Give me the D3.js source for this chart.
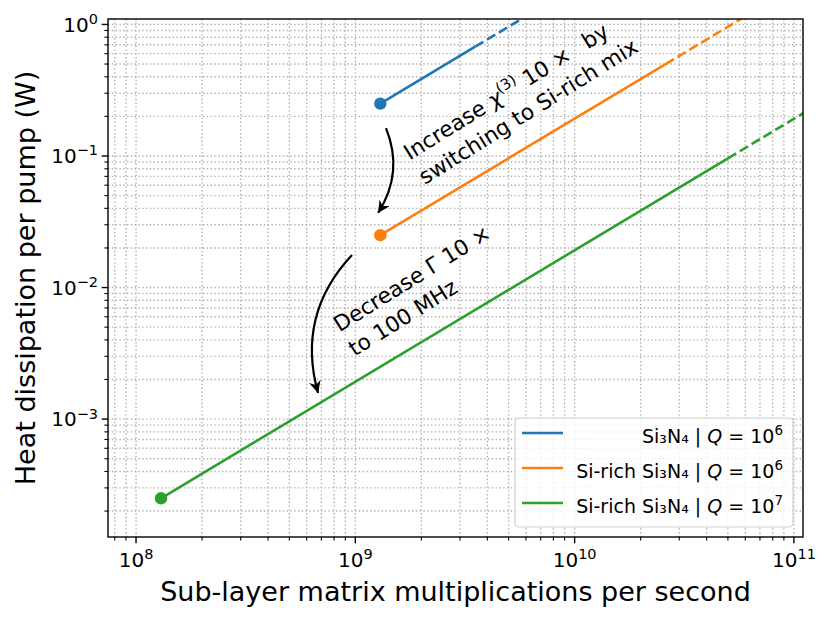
<!DOCTYPE html>
<html>
<head>
<meta charset="utf-8">
<script src="https://cdn.jsdelivr.net/npm/d3@7"></script>
<style>
  body { margin: 0; background: #fff; }
  text { font-family: "DejaVu Sans", sans-serif; fill: #000; }
</style>
</head>
<body>
<svg id="chart" width="830" height="620"></svg>
<script>
// series (x: matmuls / s, y: watts)
const seriesLabels = ["Si₃N₄", "Si-rich Si₃N₄", "Si-rich Si₃N₄"];
const seriesQ = ["6", "6", "7"];
const seriesColors = ["#1f77b4", "#ff7f0e", "#2ca02c"];
const startRate = [1.3e9, 1.3e9, 1.3e8];
const startPower = [0.25, 0.025, 2.5e-4];
const solidEndRate = [3.52e9, 2.6e10, 5.0e10];
const solidEndPower = [0.677, 0.5, 0.096];
const dashEndRate = [6.3e9, 6.3e10, 1.2e11];
const dashEndPower = [1.21, 1.21, 0.23];

const xDomain = [7.45e7, 1.1e11];
const yDomain = [1.27e-4, 1.1];
const xTickExp = [8, 9, 10, 11];
const yTickExp = [-3, -2, -1, 0];

// annotations (data coords)
const arrowFrom = [[1.38e9, 0.163], [9.66e8, 0.0177]];
const arrowTo = [[1.27e9, 0.0369], [6.76e8, 1.58e-3]];
const arrowBend = [22, -40];
const noteAt = [[1.77e9, 0.092], [8.47e8, 4.55e-3]];

const margin = {top: 19, right: 27, bottom: 83, left: 108};
const W = 830, H = 620;
const w = W - margin.left - margin.right, h = H - margin.top - margin.bottom;

const svg = d3.select('#chart');
const g = svg.append('g').attr('transform', `translate(${margin.left},${margin.top})`);

const x = d3.scaleLog().domain(xDomain).range([0, w]);
const y = d3.scaleLog().domain(yDomain).range([h, 0]);

// all log ticks (major + minor) inside domain
const logTicks = (lo, hi) => {
  let t = [];
  for (let e = Math.floor(Math.log10(lo)); e <= Math.ceil(Math.log10(hi)); e++)
    for (let m = 1; m < 10; m++) {
      let v = m * Math.pow(10, e);
      if (v >= lo && v <= hi) t.push({v: v, major: m === 1});
    }
  return t;
};
const xt = logTicks(xDomain[0], xDomain[1]);
const yt = logTicks(yDomain[0], yDomain[1]);

// grid
g.append('g').selectAll('line').data(xt).enter().append('line')
  .attr('x1', d => x(d.v)).attr('x2', d => x(d.v)).attr('y1', 0).attr('y2', h)
  .attr('stroke', '#b0b0b0').attr('stroke-width', 1.4).attr('stroke-dasharray', '1.4,2.4');
g.append('g').selectAll('line').data(yt).enter().append('line')
  .attr('y1', d => y(d.v)).attr('y2', d => y(d.v)).attr('x1', 0).attr('x2', w)
  .attr('stroke', '#b0b0b0').attr('stroke-width', 1.4).attr('stroke-dasharray', '1.4,2.4');

// ticks
g.append('g').selectAll('line').data(xt).enter().append('line')
  .attr('x1', d => x(d.v)).attr('x2', d => x(d.v)).attr('y1', h).attr('y2', d => h + (d.major ? 6.3 : 3.6))
  .attr('stroke', '#000').attr('stroke-width', d => d.major ? 1.4 : 1.1);
g.append('g').selectAll('line').data(yt).enter().append('line')
  .attr('y1', d => y(d.v)).attr('y2', d => y(d.v)).attr('x1', 0).attr('x2', d => d.major ? -6.3 : -3.6)
  .attr('stroke', '#000').attr('stroke-width', d => d.major ? 1.4 : 1.1);

const pow10Label = (sel, e) => {
  sel.append('tspan').text('10');
  sel.append('tspan').attr('font-size', 14.5).attr('dy', -7.8).text(e < 0 ? '\u2212' + (-e) : e);
};
xTickExp.forEach(e => {
  let t = g.append('text').attr('x', x(Math.pow(10, e))).attr('y', h + 30)
    .attr('font-size', 20).attr('text-anchor', 'middle');
  pow10Label(t, e);
});
yTickExp.forEach(e => {
  let t = g.append('text').attr('x', -10).attr('y', y(Math.pow(10, e)) + 7.3)
    .attr('font-size', 20).attr('text-anchor', 'end');
  pow10Label(t, e);
});

// axis labels
svg.append('text').attr('x', margin.left + w / 2).attr('y', 601).attr('font-size', 27)
  .attr('text-anchor', 'middle').text('Sub-layer matrix multiplications per second');
svg.append('text').attr('transform', `translate(35,${margin.top + h / 2}) rotate(-90)`)
  .attr('font-size', 27).attr('text-anchor', 'middle').text('Heat dissipation per pump (W)');

// lines
svg.append('defs').append('clipPath').attr('id', 'clip')
  .append('rect').attr('width', w).attr('height', h);
const plot = g.append('g').attr('clip-path', 'url(#clip)');
const line = d3.line().x(d => x(d[0])).y(d => y(d[1]));

seriesColors.forEach((c, i) => {
  plot.append('path').attr('d', line([[startRate[i], startPower[i]], [solidEndRate[i], solidEndPower[i]]]))
    .attr('fill', 'none').attr('stroke', c).attr('stroke-width', 2.6);
  plot.append('path').attr('d', line([[solidEndRate[i], solidEndPower[i]], [dashEndRate[i], dashEndPower[i]]]))
    .attr('fill', 'none').attr('stroke', c).attr('stroke-width', 2.6).attr('stroke-dasharray', '9.6,4.2');
  plot.append('circle').attr('cx', x(startRate[i])).attr('cy', y(startPower[i])).attr('r', 6.2).attr('fill', c);
});

// curved arrows
svg.append('defs').append('marker').attr('id', 'head')
  .attr('viewBox', '0 0 10 10').attr('refX', 10).attr('refY', 5)
  .attr('markerWidth', 12).attr('markerHeight', 12).attr('markerUnits', 'userSpaceOnUse')
  .attr('orient', 'auto')
  .append('path').attr('d', 'M0,0 L10,5 L0,10 L3,5 Z').attr('fill', '#000');

arrowFrom.forEach((a, i) => {
  let x0 = x(a[0]), y0 = y(a[1]), x1 = x(arrowTo[i][0]), y1 = y(arrowTo[i][1]);
  let dx = x1 - x0, dy = y1 - y0, L = Math.hypot(dx, dy);
  let cx = (x0 + x1) / 2 + arrowBend[i] * dy / L, cy = (y0 + y1) / 2 - arrowBend[i] * dx / L;
  g.append('path').attr('d', `M${x0},${y0} Q${cx},${cy} ${x1},${y1}`)
    .attr('fill', 'none').attr('stroke', '#000').attr('stroke-width', 2.2)
    .attr('marker-end', 'url(#head)');
});

// annotation text (left aligned in the rotated frame)
const n1 = g.append('text').attr('font-size', 21.7).attr('text-anchor', 'start')
  .attr('transform', `translate(${x(noteAt[0][0])},${y(noteAt[0][1])}) rotate(-32)`);
let l1 = n1.append('tspan').attr('x', 0).attr('y', 0);
l1.append('tspan').text('Increase ');
l1.append('tspan').attr('font-style', 'italic').text('χ');
l1.append('tspan').attr('font-size', 15).attr('dy', -9).text('(3)');
l1.append('tspan').attr('dy', 9).text(' 10 × \u2002by');
n1.append('tspan').attr('x', 0).attr('y', 28.5).text('switching to Si-rich mix');

const n2 = g.append('text').attr('font-size', 21.7).attr('text-anchor', 'start')
  .attr('transform', `translate(${x(noteAt[1][0])},${y(noteAt[1][1])}) rotate(-32)`);
n2.append('tspan').attr('x', 0).attr('y', 0).text('Decrease Γ 10 ×');
n2.append('tspan').attr('x', 0).attr('y', 28.5).text('to 100 MHz');

// legend
const lg = svg.append('g').attr('transform', 'translate(515,418)');
lg.append('rect').attr('width', 278).attr('height', 109).attr('rx', 4)
  .attr('fill', '#fff').attr('fill-opacity', 0.8).attr('stroke', '#d0d0d0').attr('stroke-width', 1.2);
seriesColors.forEach((c, i) => {
  let ry = 15 + i * 35;
  lg.append('line').attr('x1', 7).attr('x2', 48).attr('y1', ry).attr('y2', ry)
    .attr('stroke', c).attr('stroke-width', 2.6);
  let t = lg.append('text').attr('x', 268).attr('y', ry + 10).attr('font-size', 19).attr('text-anchor', 'end');
  t.append('tspan').text(seriesLabels[i] + ' | ');
  t.append('tspan').attr('font-style', 'italic').text('Q');
  t.append('tspan').text(' = 10');
  t.append('tspan').attr('font-size', 13.5).attr('dy', -8).text(seriesQ[i]);
});

// spines
g.append('rect').attr('width', w).attr('height', h).attr('fill', 'none')
  .attr('stroke', '#000').attr('stroke-width', 1.4);
</script>
</body>
</html>
